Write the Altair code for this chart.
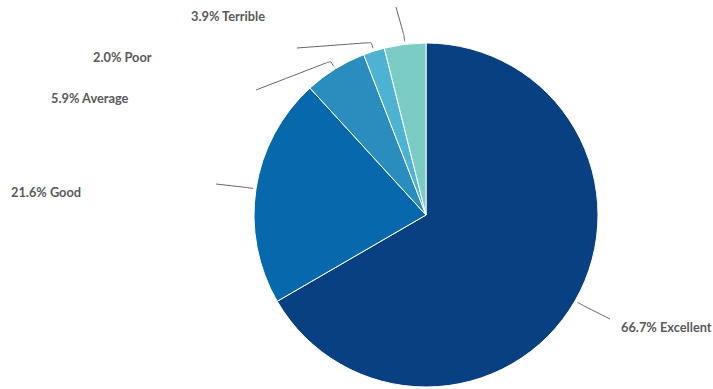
import altair as alt
import numpy as np
import pandas as pd

# ---- data ----
categories = ["Excellent", "Good", "Average", "Poor", "Terrible"]
values = [66.7, 21.6, 5.9, 2.0, 3.9]
colors = ["#084081", "#0868ac", "#2b8cbe", "#4eb3d3", "#7bccc4"]

# ---- layout (pixels) ----
W, H = 713, 389
CX, CY, R = 426, 215, 172
label_pos = {  # left x, middle y of label text
    "Excellent": (621, 328),
    "Good": (11, 193),
    "Average": (51, 99),
    "Poor": (93, 58),
    "Terrible": (191, 17),
}
connector_end = {
    "Excellent": (610, 319),
    "Good": (216, 184),
    "Average": (256, 90),
    "Poor": (297, 48),
    "Terrible": (396, 7),
}

df = pd.DataFrame({"category": categories, "value": values, "idx": range(len(categories))})
df["label"] = [f"{v:.1f}% {c}" for c, v in zip(categories, values)]

# mid angles (clockwise from top) from the data
total = sum(values)
cum = np.cumsum([0] + values)
mid = [(cum[i] + values[i] / 2) / total * 2 * np.pi for i in range(len(values))]

rows = []
for i, c in enumerate(categories):
    a = mid[i]
    p0 = (CX + (R + 3) * np.sin(a), CY - (R + 3) * np.cos(a))
    p1 = (CX + (R + 9) * np.sin(a), CY - (R + 9) * np.cos(a))
    ex, ey = connector_end[c]
    pts = [p0, p1, p1, (ex, ey)]
    for j, (x, y) in enumerate(pts):
        rows.append({"category": c, "seq": j, "px": x, "py": y})
conn = pd.DataFrame(rows)

df["lx"] = [label_pos[c][0] for c in categories]
df["ly"] = [label_pos[c][1] for c in categories]

pie = alt.Chart(df).mark_arc(outerRadius=R, stroke="white", strokeWidth=1).encode(
    theta=alt.Theta("value:Q", stack=True),
    order=alt.Order("idx:Q"),
    color=alt.Color("category:N", scale=alt.Scale(domain=categories, range=colors), legend=None),
    x=alt.value(CX),
    y=alt.value(CY),
)

lines = alt.Chart(conn).mark_line(color="#5f6673", strokeWidth=1, interpolate="basis").encode(
    x=alt.X("px:Q", scale=None, axis=None),
    y=alt.Y("py:Q", scale=None, axis=None),
    detail="category:N",
    order="seq:Q",
)

labels = alt.Chart(df).mark_text(
    align="left", baseline="middle", font="Lato", fontSize=12.8, fontWeight="bold", color="#5a5a5a"
).encode(
    x=alt.X("lx:Q", scale=None, axis=None),
    y=alt.Y("ly:Q", scale=None, axis=None),
    text="label:N",
)

chart = alt.layer(lines, pie, labels).properties(
    width=W, height=H, padding=0, autosize=alt.AutoSizeParams(type="none")
).configure_view(stroke=None)

chart.save("out.html", embed_options={"renderer": "svg", "actions": False})
